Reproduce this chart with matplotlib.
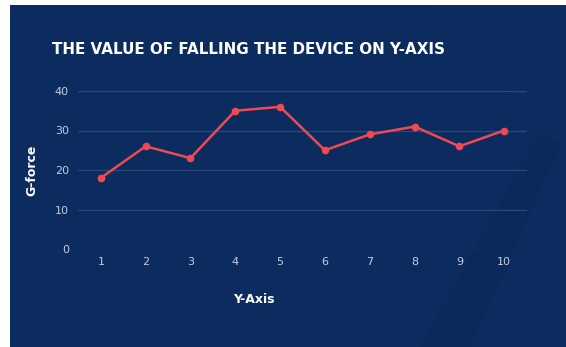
import matplotlib.pyplot as plt
from matplotlib.patches import Rectangle, Polygon

x_vals = [1, 2, 3, 4, 5, 6, 7, 8, 9, 10]
g_force = [18, 26, 23, 35, 36, 25, 29, 31, 26, 30]
y_ticks = [0, 10, 20, 30, 40]

navy = "#0c2b5e"
fig = plt.figure(figsize=(5.66, 3.47), dpi=100)
fig.patch.set_facecolor("white")

# navy panel with a thin white margin on the left and top
fig.patches.append(Rectangle((10 / 566, 0), 1, 1 - 5 / 347, transform=fig.transFigure,
                             facecolor=navy, edgecolor="none", zorder=-3))
# subtle decorative facets on the right
fig.patches.append(Polygon([(430 / 566, 1 - 5 / 347), (1, 1 - 5 / 347), (1, 0.55), (560 / 566, 0.58)],
                           closed=True, transform=fig.transFigure, facecolor="#0d2d61",
                           edgecolor="none", zorder=-2))
fig.patches.append(Polygon([(540 / 566, 0.62), (560 / 566, 0.58), (470 / 566, 0.0), (420 / 566, 0.0)],
                           closed=True, transform=fig.transFigure, facecolor="#0b295a",
                           edgecolor="none", zorder=-2))

ax = fig.add_axes([78 / 566, 1 - 249 / 347, (527 - 78) / 566, (249 - 91) / 347])
ax.set_facecolor("none")
ax.plot(x_vals, g_force, color="#ef4a53", linewidth=1.8, marker="o", markersize=4.5,
        solid_joinstyle="round", zorder=3)

ax.set_xlim(0.49, 10.51)
ax.set_ylim(0, 40)
ax.set_xticks(x_vals)
ax.set_yticks(y_ticks)
ax.grid(axis="y", color="#2a4a7e", linewidth=0.9)
ax.set_axisbelow(True)
for s in ax.spines.values():
    s.set_visible(False)
ax.tick_params(length=0, colors="#c5cee0", labelsize=8)
ax.tick_params(axis="y", pad=6.5)
ax.tick_params(axis="x", pad=6)

ax.set_ylabel("G-force", color="white", fontsize=9, fontweight="bold")
ax.set_xlabel("Y-Axis", color="white", fontsize=9, fontweight="bold")
ax.xaxis.set_label_coords(0.392, -0.28)
ax.yaxis.set_label_coords(-0.088, 0.5)

fig.text(52 / 566, 1 - 50 / 347, "THE VALUE OF FALLING THE DEVICE ON Y-AXIS", color="white",
         fontsize=10.9, fontweight="bold", va="center", ha="left")

fig.savefig("out.png", dpi=100, facecolor=fig.get_facecolor())
